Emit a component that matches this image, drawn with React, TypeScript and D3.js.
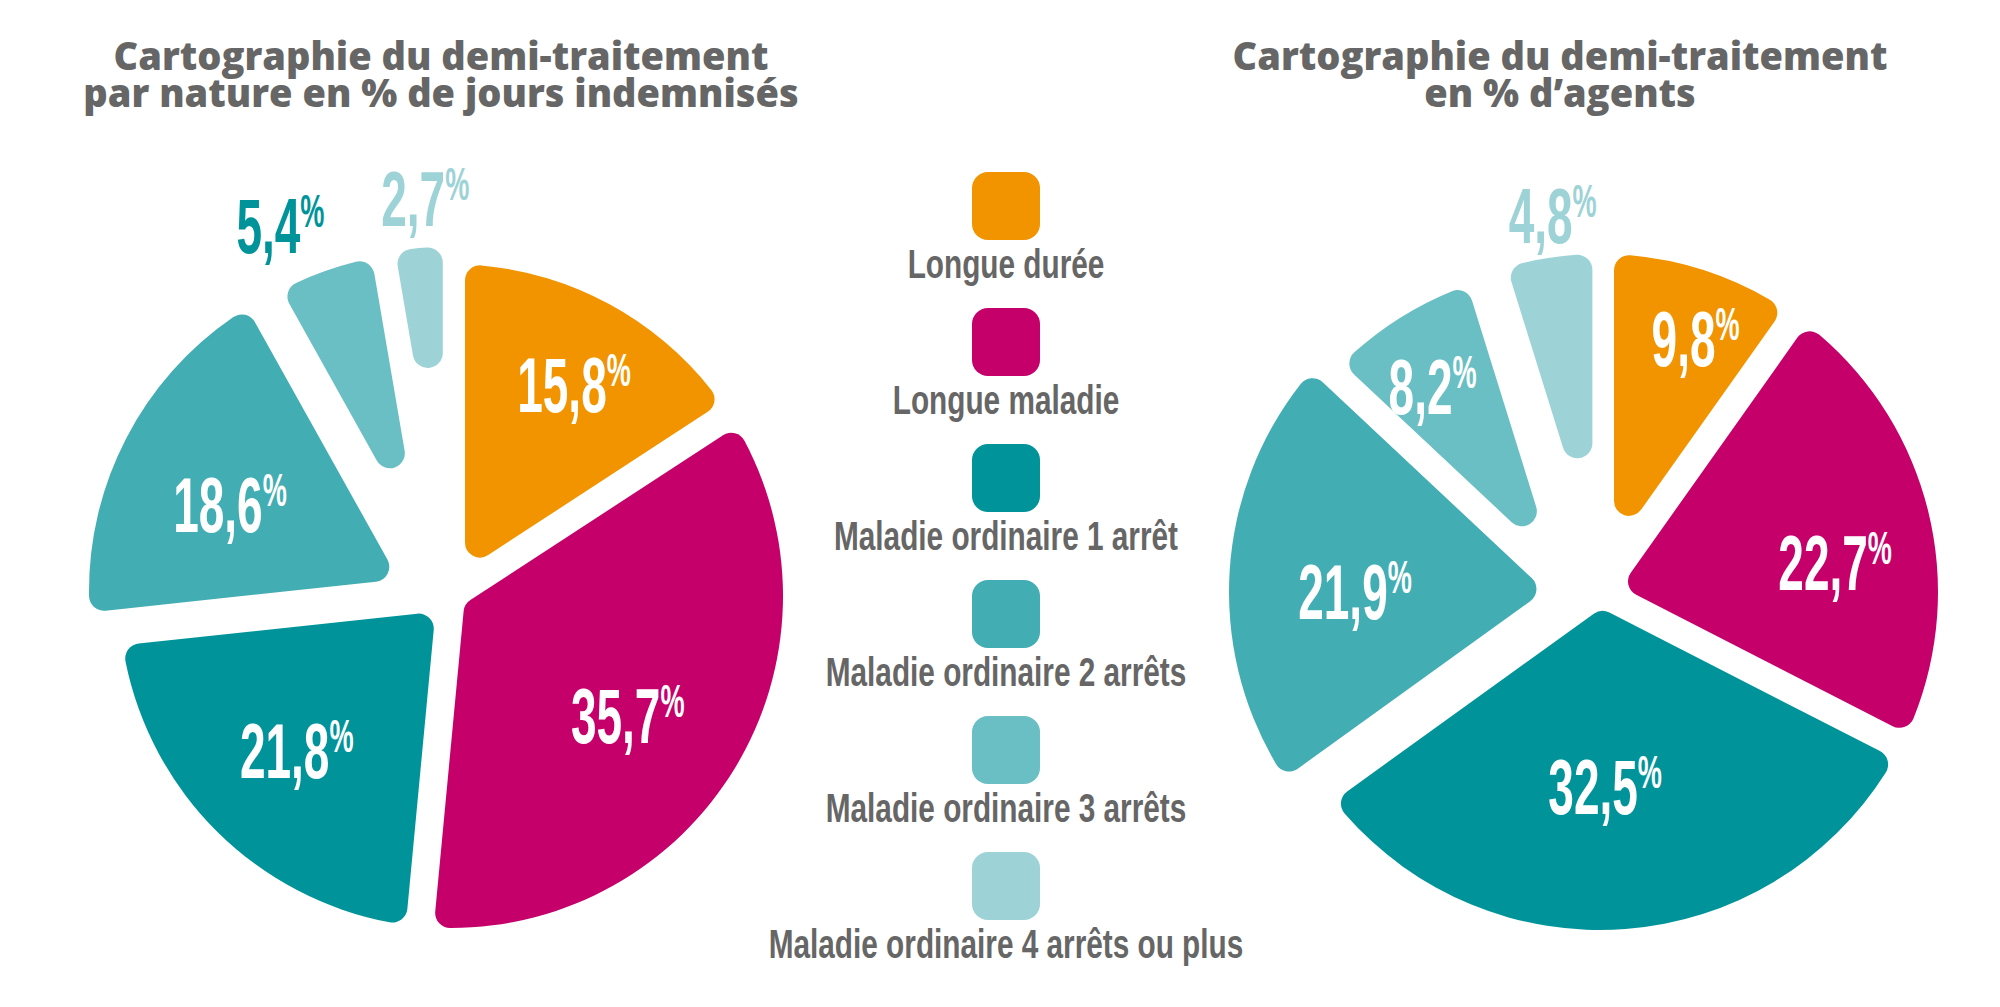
import React from "react";
import * as d3 from "d3";

// ---- data ----
const categories = [
  "Longue durée",
  "Longue maladie",
  "Maladie ordinaire 1 arrêt",
  "Maladie ordinaire 2 arrêts",
  "Maladie ordinaire 3 arrêts",
  "Maladie ordinaire 4 arrêts ou plus",
];
const joursValues = [15.8, 35.7, 21.8, 18.6, 5.4, 2.7];
const agentsValues = [9.8, 22.7, 32.5, 21.9, 8.2, 4.8];
const titleJours = ["Cartographie du demi-traitement", "par nature en % de jours indemnisés"];
const titleAgents = ["Cartographie du demi-traitement", "en % d’agents"];

// ---- styles ----
const colors = ["#f29400", "#c6006b", "#00949a", "#42adb3", "#69bfc3", "#9dd3d6"];
const grey = "#666666";
const labelFont = "'Liberation Sans', Arial, sans-serif";
const titleFont = "'Open Sans', 'DejaVu Sans', sans-serif";
const labelSquash = 0.59; // condensed look for the numbers
const legendSquash = 0.726;

interface PieStyle {
  values: number[];
  title: string[];
  cx: number;
  cy: number;
  r: number;
  titleX: number;
  nudge: [number, number][];
  label: [number, number][]; // [radius, angle shift in degrees]
  labelFill: string[];
}

const pies: PieStyle[] = [
  {
    values: joursValues,
    title: titleJours,
    cx: 451,
    cy: 596,
    r: 332,
    titleX: 441,
    nudge: [[0, 0], [0, 0], [0, 0], [-30, -5], [-15, -12], [-4, -17]],
    label: [[245, 1.7], [213, 2.8], [218, 0.4], [210, -2.8], [391, -4], [382, 1.6]],
    labelFill: ["#fff", "#fff", "#fff", "#fff", "#00949a", "#9dd3d6"],
  },
  {
    values: agentsValues,
    title: titleAgents,
    cx: 1600,
    cy: 592,
    r: 338,
    titleX: 1560,
    nudge: [[0, 0], [0, 0], [0, 0], [-33, 0], [-20, 12], [0, 0]],
    label: [[271, 3], [237, 6.6], [194, 2.8], [212, -3.4], [263, -2], [380, 1.5]],
    labelFill: ["#fff", "#fff", "#fff", "#fff", "#fff", "#9dd3d6"],
  },
];

const fr = d3.formatLocale({ decimal: ",", thousands: " ", grouping: [3], currency: ["", "€"] });
const fmt = fr.format(".1f");

const pol = (a: number, r: number): [number, number] => [r * Math.sin(a), -r * Math.cos(a)];

// wedge with parallel gaps and rounded corners
function slicePath(a0: number, a1: number, R: number, hMax: number, rc: number): string {
  const al = (a1 - a0) / 2;
  const m = (a0 + a1) / 2;
  const h = Math.min(hMax, 0.15 * R * Math.sin(al));
  const u0 = pol(a0, 1);
  const u1 = pol(a1, 1);
  const n0: [number, number] = [Math.cos(a0), Math.sin(a0)];
  const n1: [number, number] = [-Math.cos(a1), -Math.sin(a1)];
  let c = rc;
  for (let k = 0; k < 30; k++) {
    const ph = Math.asin(Math.min(1, (h + c) / (R - c)));
    const dA = (h + c) / Math.sin(al);
    if (dA * Math.cos(al) <= (R - c) * Math.cos(ph) && ph <= al) break;
    c *= 0.85;
  }
  const phi = Math.asin((h + c) / (R - c));
  const dA = (h + c) / Math.sin(al);
  const tA = dA * Math.cos(al);
  const tO = (R - c) * Math.cos(phi);
  const pt = (u: [number, number], n: [number, number], t: number): [number, number] => [
    u[0] * t + n[0] * h,
    u[1] * t + n[1] * h,
  ];
  const pa0 = pt(u0, n0, tA);
  const po0 = pt(u0, n0, tO);
  const pa1 = pt(u1, n1, tA);
  const c0 = pol(a0 + phi, R - c);
  const c1 = pol(a1 - phi, R - c);
  const ca = pol(m, dA);
  const q = Math.PI / 2;
  const p = d3.path();
  p.moveTo(pa0[0], pa0[1]);
  p.lineTo(po0[0], po0[1]);
  p.arc(c0[0], c0[1], c, a0 + Math.PI, a0 + phi - q);
  p.arc(0, 0, R, a0 + phi - q, a1 - phi - q);
  p.arc(c1[0], c1[1], c, a1 - phi - q, a1);
  p.lineTo(pa1[0], pa1[1]);
  p.arc(ca[0], ca[1], c, a1, a0 + Math.PI);
  p.closePath();
  return p.toString();
}

const Pie: React.FC<{ cfg: PieStyle }> = ({ cfg }) => {
  const arcs = d3.pie<number>().sort(null).value((d) => d)(cfg.values);
  return (
    <g>
      <text textAnchor="middle" fontFamily={titleFont} fontWeight={800} fontSize={38} fill={grey}>
        {cfg.title.map((t, i) => (
          <tspan key={t} x={cfg.titleX} y={70 + i * 37}>
            {t}
          </tspan>
        ))}
      </text>
      {arcs.map((a, i) => {
        const [nx, ny] = cfg.nudge[i];
        return (
          <path
            key={"s" + i}
            d={slicePath(a.startAngle, a.endAngle, cfg.r, 14, 15)}
            transform={`translate(${cfg.cx + nx},${cfg.cy + ny})`}
            fill={colors[i]}
          />
        );
      })}
      {arcs.map((a, i) => {
        const [nx, ny] = cfg.nudge[i];
        const [lr, shift] = cfg.label[i];
        const [lx, ly] = pol((a.startAngle + a.endAngle) / 2 + (shift * Math.PI) / 180, lr);
        return (
          <g
            key={"l" + i}
            transform={`translate(${cfg.cx + nx + lx},${cfg.cy + ny + ly}) scale(${labelSquash},1)`}
          >
            <text
              y={28}
              textAnchor="middle"
              fontFamily={labelFont}
              fontWeight={700}
              fontSize={78}
              fill={cfg.labelFill[i]}
            >
              {fmt(a.data)}
              <tspan fontSize={46} dy={-26}>
                %
              </tspan>
            </text>
          </g>
        );
      })}
    </g>
  );
};

const Legend: React.FC = () => {
  const y = d3.scalePoint<string>().domain(categories).range([172, 852]);
  const cx = 1006;
  const size = 68;
  return (
    <g>
      {categories.map((c, i) => (
        <g key={c}>
          <rect x={cx - size / 2} y={y(c)} width={size} height={size} rx={16} fill={colors[i]} />
          <g transform={`translate(${cx},${(y(c) as number) + 106}) scale(${legendSquash},1)`}>
            <text textAnchor="middle" fontFamily={labelFont} fontWeight={700} fontSize={41} fill={grey}>
              {c}
            </text>
          </g>
        </g>
      ))}
    </g>
  );
};

export default function App() {
  return (
    <svg
      width={2000}
      height={1007}
      style={{ position: "absolute", left: 0, top: 0, background: "#fff" }}
    >
      {pies.map((p, i) => (
        <Pie key={i} cfg={p} />
      ))}
      <Legend />
    </svg>
  );
}
